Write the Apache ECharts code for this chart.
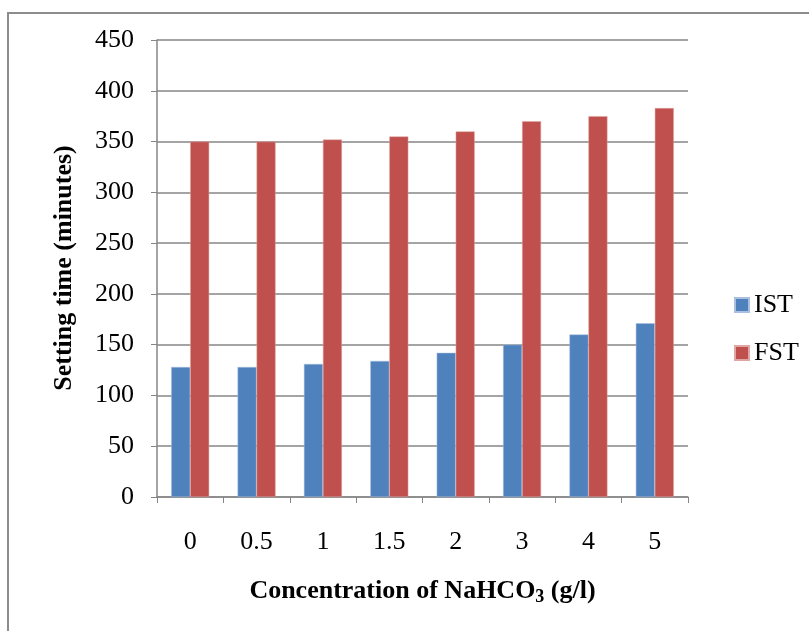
<!DOCTYPE html>
<html>
<head>
<meta charset="utf-8">
<script src="https://cdn.jsdelivr.net/npm/echarts@6/dist/echarts.min.js"></script>
<style>
  html, body { margin: 0; padding: 0; background: #fff; }
  #chart { width: 809px; height: 631px; }
</style>
</head>
<body>
<div id="chart"></div>
<script>
// NaHCO3 concentration (g/l) and setting times (minutes)
const categories = ['0', '0.5', '1', '1.5', '2', '3', '4', '5'];
const istValues = [128, 128, 131, 134, 142, 150, 160, 171];
const fstValues = [350, 350, 352, 355, 360, 370, 375, 383];
const yTicks = { min: 0, max: 450, interval: 50 };
const yTitle = 'Setting time (minutes)';

const serif = '"Liberation Serif", "Times New Roman", serif';
const axisGray = '#868686';

const chart = echarts.init(document.getElementById('chart'), null, { renderer: 'canvas' });

chart.setOption({
  backgroundColor: '#ffffff',
  animation: false,
  textStyle: { fontFamily: serif, color: '#000' },
  graphic: [
    {
      type: 'rect',
      shape: { x: 8, y: 13, width: 830, height: 660 },
      style: { fill: 'none', stroke: '#8c8c8c', lineWidth: 2 },
      silent: true
    },
    {
      // vertical axis title, placed beside the tick labels
      type: 'text',
      x: 64,
      y: 268,
      rotation: Math.PI / 2,
      style: {
        text: yTitle,
        font: 'bold 26px ' + serif,
        fill: '#000',
        align: 'center',
        verticalAlign: 'middle'
      },
      silent: true
    }
  ],
  grid: { left: 157, right: 121, top: 40, bottom: 134, containLabel: false },
  legend: {
    orient: 'vertical',
    left: 729,
    top: 287,
    itemWidth: 14,
    itemHeight: 14,
    itemGap: 22,
    icon: 'rect',
    textStyle: { fontFamily: serif, fontSize: 26, color: '#000' },
    data: ['IST', 'FST']
  },
  xAxis: {
    type: 'category',
    data: categories,
    name: '{t|Concentration of NaHCO}{s|3}{t| (g/l)}',
    nameLocation: 'middle',
    nameGap: 79,
    nameTextStyle: {
      rich: {
        t: { fontFamily: serif, fontSize: 26, fontWeight: 'bold', color: '#000' },
        s: { fontFamily: serif, fontSize: 18, fontWeight: 'bold', color: '#000', padding: [12, 0, 0, 0] }
      }
    },
    axisLine: { lineStyle: { color: axisGray, width: 1.5 } },
    axisTick: { show: true, length: 6, alignWithLabel: false, lineStyle: { color: axisGray } },
    axisLabel: { fontFamily: serif, fontSize: 26, color: '#000', margin: 32 },
    splitLine: { show: false }
  },
  yAxis: {
    type: 'value',
    min: yTicks.min,
    max: yTicks.max,
    interval: yTicks.interval,
    axisLine: { show: true, lineStyle: { color: axisGray, width: 1.5 } },
    axisTick: { show: true, length: 6, inside: false, lineStyle: { color: axisGray } },
    axisLabel: { fontFamily: serif, fontSize: 26, color: '#000', margin: 23 },
    splitLine: { show: true, lineStyle: { color: axisGray, width: 1.5 } }
  },
  series: [
    {
      name: 'IST',
      type: 'bar',
      data: istValues,
      barWidth: 19,
      barGap: '0%',
      itemStyle: { color: '#4F81BD', borderColor: '#a9c0de', borderWidth: 0.5 }
    },
    {
      name: 'FST',
      type: 'bar',
      data: fstValues,
      barWidth: 19,
      barGap: '0%',
      itemStyle: { color: '#C0504D', borderColor: '#e0a6a4', borderWidth: 0.5 }
    }
  ]
});
</script>
</body>
</html>
